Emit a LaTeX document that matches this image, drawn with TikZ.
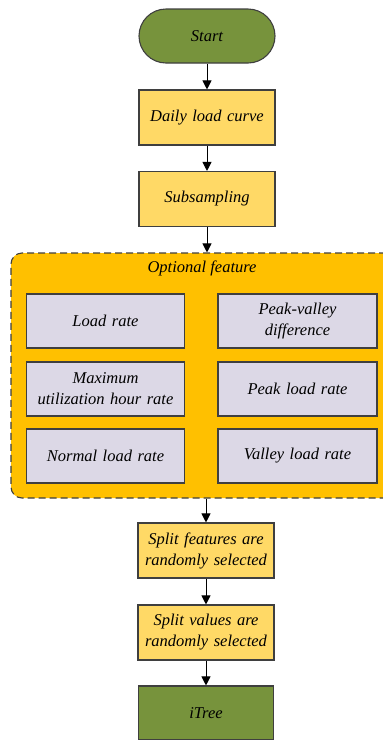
\documentclass[tikz,border=0pt]{standalone}
\usepackage{fontspec}
\setmainfont{Liberation Serif}
\usetikzlibrary{arrows.meta}
\definecolor{olive}{HTML}{77933C}
\definecolor{ylw}{HTML}{FFD966}
\definecolor{amber}{HTML}{FFC000}
\definecolor{lav}{HTML}{DCD8E6}
\definecolor{edge}{HTML}{3F3F3F}
\tikzset{
  base/.style={draw=edge, line width=1.1pt, align=center, inner sep=2pt,
    font=\fontsize{16.5}{21}\selectfont\itshape, text=black},
  ybox/.style={base, fill=ylw, minimum width=135pt, minimum height=55pt, text width=132pt},
  gbox/.style={base, fill=olive, minimum width=135pt, minimum height=54pt},
  fbox/.style={base, fill=lav, minimum height=54pt, text width=154pt},
  arr/.style={draw=black, line width=1pt, -{Triangle[length=9pt,width=9pt]}},
}
\begin{document}
\begin{tikzpicture}[x=1pt,y=-1pt]
\useasboundingbox (0,0) rectangle (383,740);
\clip (0,0) rectangle (383,740);
\node[gbox, rounded corners=27pt, minimum width=136pt] (start) at (207,36) {Start};
\node[ybox] (daily) at (207,117.5) {Daily load curve};
\node[ybox] (sub) at (207,199) {Subsampling};
\node[draw=edge, line width=1.1pt, dash pattern=on 7pt off 4pt, fill=amber,
  rounded corners=11pt, minimum width=386pt, minimum height=245pt, inner sep=0pt]
  (opt) at (204,375.5) {};
\node[font=\fontsize{16.5}{21}\selectfont\itshape] (optt) at (202,268) {Optional feature};
\node[fbox, minimum width=157pt] (f1) at (105.5,321) {Load rate};
\node[fbox, minimum width=159pt] (f2) at (297.5,321) {Peak-valley\\difference};
\node[fbox, minimum width=157pt] (f3) at (105.5,389) {Maximum\\utilization hour rate};
\node[fbox, minimum width=159pt] (f4) at (297.5,389) {Peak load rate};
\node[fbox, minimum width=157pt] (f5) at (105.5,456) {Normal load rate};
\node[fbox, minimum width=159pt] (f6) at (297.5,456) {Valley load rate};
\node[ybox] (sf) at (206,550.5) {Split features are\\randomly selected};
\node[ybox] (sv) at (206,632.5) {Split values are\\randomly selected};
\node[gbox] (itree) at (206,713) {iTree};
\draw[arr] (start.south) -- (daily.north);
\draw[arr] (daily.south) -- (sub.north);
\draw[arr] (sub.south) -- (sub.south |- opt.north);
\draw[arr] (sf.north |- opt.south) -- (sf.north);
\draw[arr] (sf.south) -- (sv.north);
\draw[arr] (sv.south) -- (itree.north);
\end{tikzpicture}
\end{document}
